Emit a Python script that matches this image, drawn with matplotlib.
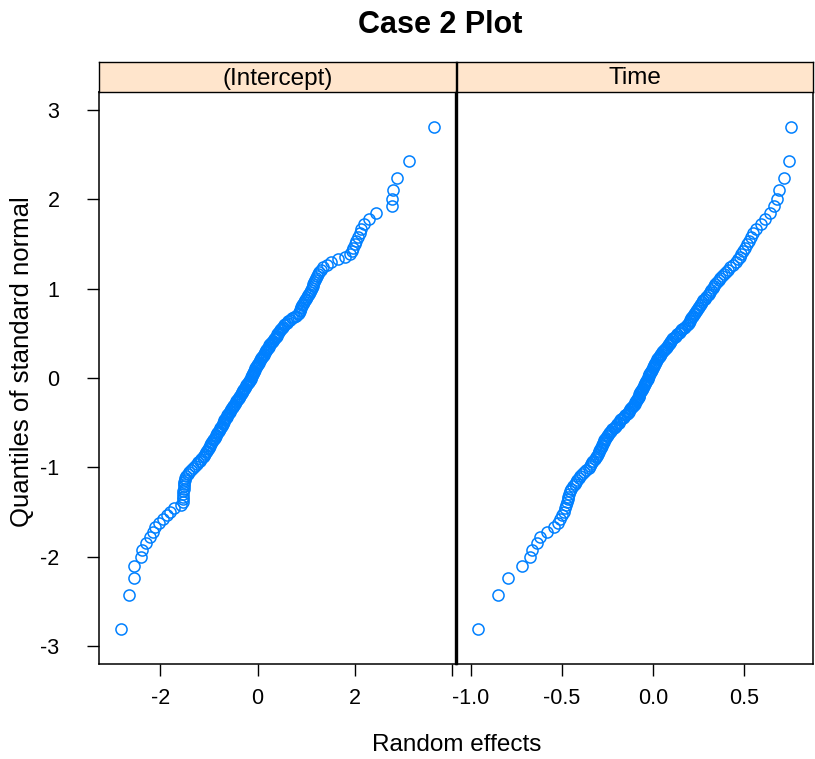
import matplotlib
matplotlib.use("Agg")
import matplotlib.pyplot as plt

plt.rcParams["font.family"] = ["Liberation Sans", "DejaVu Sans"]

# theoretical normal quantiles (lower half, 200 groups); upper half is the mirror
normal_q_lower = [
    -2.807, -2.432, -2.241, -2.108, -2.005, -1.919, -1.846, -1.780, -1.722, -1.669,
    -1.621, -1.576, -1.534, -1.495, -1.458, -1.423, -1.389, -1.356, -1.326, -1.296,
    -1.267, -1.240, -1.213, -1.188, -1.163, -1.138, -1.115, -1.092, -1.069, -1.047,
    -1.026, -1.005, -0.984, -0.964, -0.944, -0.925, -0.906, -0.887, -0.868, -0.850,
    -0.833, -0.815, -0.798, -0.781, -0.764, -0.747, -0.731, -0.714, -0.698, -0.682,
    -0.667, -0.651, -0.636, -0.620, -0.605, -0.590, -0.575, -0.561, -0.546, -0.532,
    -0.517, -0.503, -0.489, -0.475, -0.461, -0.447, -0.433, -0.419, -0.405, -0.392,
    -0.378, -0.365, -0.352, -0.338, -0.325, -0.312, -0.299, -0.286, -0.273, -0.260,
    -0.247, -0.234, -0.221, -0.208, -0.196, -0.183, -0.170, -0.157, -0.145, -0.132,
    -0.119, -0.107, -0.094, -0.082, -0.069, -0.056, -0.044, -0.031, -0.019, -0.006,
]
normal_q = normal_q_lower + [-v for v in reversed(normal_q_lower)]

# sorted random effects, (Intercept)
intercept_re = [
    -2.81, -2.64, -2.55, -2.54, -2.39, -2.37, -2.29, -2.22, -2.16, -2.10,
    -2.02, -1.95, -1.87, -1.80, -1.72, -1.58, -1.54, -1.535, -1.53, -1.53,
    -1.525, -1.52, -1.52, -1.515, -1.51, -1.50, -1.49, -1.47, -1.44, -1.40,
    -1.36, -1.32, -1.28, -1.25, -1.22, -1.19, -1.16, -1.13, -1.10, -1.08,
    -1.06, -1.04, -1.02, -1.00, -0.98, -0.97, -0.95, -0.93, -0.92, -0.90,
    -0.88, -0.86, -0.85, -0.83, -0.81, -0.80, -0.78, -0.77, -0.75, -0.74,
    -0.72, -0.71, -0.69, -0.68, -0.66, -0.65, -0.63, -0.62, -0.60, -0.59,
    -0.57, -0.56, -0.54, -0.53, -0.51, -0.50, -0.48, -0.47, -0.45, -0.44,
    -0.42, -0.41, -0.39, -0.38, -0.36, -0.35, -0.33, -0.32, -0.30, -0.29,
    -0.27, -0.26, -0.24, -0.23, -0.21, -0.20, -0.18, -0.17, -0.15, -0.14,
    -0.13, -0.12, -0.11, -0.10, -0.09, -0.08, -0.07, -0.06, -0.05, -0.03,
    -0.02, -0.01, 0.01, 0.02, 0.04, 0.05, 0.07, 0.08, 0.10, 0.11,
    0.13, 0.14, 0.16, 0.17, 0.18, 0.20, 0.21, 0.23, 0.24, 0.26,
    0.27, 0.29, 0.31, 0.33, 0.35, 0.37, 0.39, 0.41, 0.43, 0.45,
    0.47, 0.49, 0.51, 0.53, 0.55, 0.57, 0.60, 0.63, 0.67, 0.71,
    0.75, 0.80, 0.84, 0.86, 0.87, 0.88, 0.89, 0.90, 0.91, 0.93,
    0.95, 0.97, 0.99, 1.01, 1.03, 1.05, 1.07, 1.09, 1.11, 1.13,
    1.15, 1.17, 1.19, 1.21, 1.23, 1.25, 1.27, 1.30, 1.35, 1.42,
    1.52, 1.65, 1.80, 1.90, 1.94, 1.97, 2.00, 2.03, 2.06, 2.10,
    2.13, 2.19, 2.29, 2.44, 2.76, 2.77, 2.78, 2.87, 3.12, 3.62,
]

# sorted random effects, Time
time_re = [
    -0.96, -0.85, -0.80, -0.72, -0.675, -0.665, -0.64, -0.62, -0.585, -0.545,
    -0.525, -0.51, -0.50, -0.49, -0.485, -0.48, -0.475, -0.47, -0.465, -0.46,
    -0.455, -0.45, -0.44, -0.43, -0.425, -0.42, -0.41, -0.40, -0.39, -0.38,
    -0.37, -0.355, -0.345, -0.34, -0.335, -0.33, -0.32, -0.315, -0.31, -0.305,
    -0.30, -0.295, -0.29, -0.285, -0.28, -0.28, -0.275, -0.27, -0.27, -0.265,
    -0.26, -0.255, -0.25, -0.24, -0.235, -0.23, -0.225, -0.215, -0.21, -0.205,
    -0.20, -0.19, -0.185, -0.18, -0.175, -0.165, -0.16, -0.155, -0.145, -0.14,
    -0.135, -0.13, -0.125, -0.12, -0.115, -0.11, -0.105, -0.10, -0.10, -0.095,
    -0.09, -0.09, -0.085, -0.08, -0.08, -0.075, -0.07, -0.07, -0.065, -0.06,
    -0.06, -0.055, -0.05, -0.05, -0.045, -0.045, -0.04, -0.04, -0.035, -0.03,
    -0.03, -0.025, -0.02, -0.02, -0.015, -0.01, -0.01, -0.005, 0.0, 0.0,
    0.005, 0.005, 0.01, 0.01, 0.015, 0.02, 0.02, 0.025, 0.03, 0.035,
    0.04, 0.045, 0.05, 0.055, 0.06, 0.065, 0.07, 0.075, 0.08, 0.085,
    0.09, 0.095, 0.10, 0.105, 0.11, 0.12, 0.125, 0.13, 0.14, 0.145,
    0.155, 0.16, 0.17, 0.175, 0.185, 0.19, 0.195, 0.20, 0.205, 0.21,
    0.215, 0.22, 0.225, 0.23, 0.235, 0.24, 0.245, 0.25, 0.26, 0.265,
    0.27, 0.275, 0.285, 0.29, 0.30, 0.305, 0.315, 0.32, 0.33, 0.335,
    0.34, 0.35, 0.36, 0.37, 0.38, 0.39, 0.40, 0.41, 0.425, 0.44,
    0.455, 0.465, 0.475, 0.485, 0.495, 0.505, 0.515, 0.525, 0.535, 0.55,
    0.565, 0.59, 0.615, 0.64, 0.665, 0.683, 0.69, 0.72, 0.749, 0.758,
]

panel_names = ["(Intercept)", "Time"]
panel_xticks = [[-2, 0, 2, 4], [-1.0, -0.5, 0.0, 0.5]]
panel_xticklabels = [["-2", "0", "2", ""], ["-1.0", "-0.5", "0.0", "0.5"]]
yticks = [-3, -2, -1, 0, 1, 2, 3]

W, H = 815, 759
fig = plt.figure(figsize=(W / 100, H / 100), dpi=100)


def box(x0, y0, x1, y1):
    # pixel box (top-left origin) -> figure fraction rect
    return [x0 / W, 1 - y1 / H, (x1 - x0) / W, (y1 - y0) / H]


point_col = "#0080ff"
strip_col = "#ffe5cc"
panels = [(99, 455.5), (456.5, 813)]
data = [intercept_re, time_re]

for k, (x0, x1) in enumerate(panels):
    ax = fig.add_axes(box(x0, 92, x1, 664))
    vals = data[k]
    ax.plot(vals, normal_q, linestyle="none", marker="o", markersize=8,
            markerfacecolor="none", markeredgecolor=point_col, markeredgewidth=1.1)
    rng = max(vals) - min(vals)
    ax.set_xlim(min(vals) - 0.07 * rng, max(vals) + 0.07 * rng)
    ax.set_ylim(-2.807 - 0.07 * 5.614, 2.807 + 0.07 * 5.614)
    ax.set_xticks(panel_xticks[k])
    ax.set_xticklabels(panel_xticklabels[k])
    ax.tick_params(axis="x", direction="out", length=8.5, width=1, labelsize=15.5, pad=9)
    if k == 0:
        ax.set_yticks(yticks)
        ax.set_yticklabels([str(v) for v in yticks])
        ax.tick_params(axis="y", direction="out", length=8.5, width=1, labelsize=15.5, pad=20)
        ax.spines["right"].set_linewidth(1.7)
    else:
        ax.set_yticks([])
        ax.spines["left"].set_linewidth(1.7)
    for name in ["top", "bottom"]:
        ax.spines[name].set_linewidth(1.1)
    ax.spines["left" if k == 0 else "right"].set_linewidth(1.1)

    sx = fig.add_axes(box(x0, 62, x1, 92))
    sx.set_facecolor(strip_col)
    sx.set_xticks([])
    sx.set_yticks([])
    for sp in sx.spines.values():
        sp.set_linewidth(1.0)
    sx.text(0.5, 0.45, panel_names[k], ha="center", va="center", fontsize=17.5,
            transform=sx.transAxes)

fig.text(440 / W, 1 - 25 / H, "Case 2 Plot", ha="center", va="center",
         fontsize=22, fontweight="bold")
fig.text(457 / W, 1 - 745 / H, "Random effects", ha="center", va="center", fontsize=17.5)
fig.text(22 / W, 1 - 362 / H, "Quantiles of standard normal", ha="center", va="center",
         fontsize=18.5, rotation=90)

fig.savefig("out.png", dpi=100)
